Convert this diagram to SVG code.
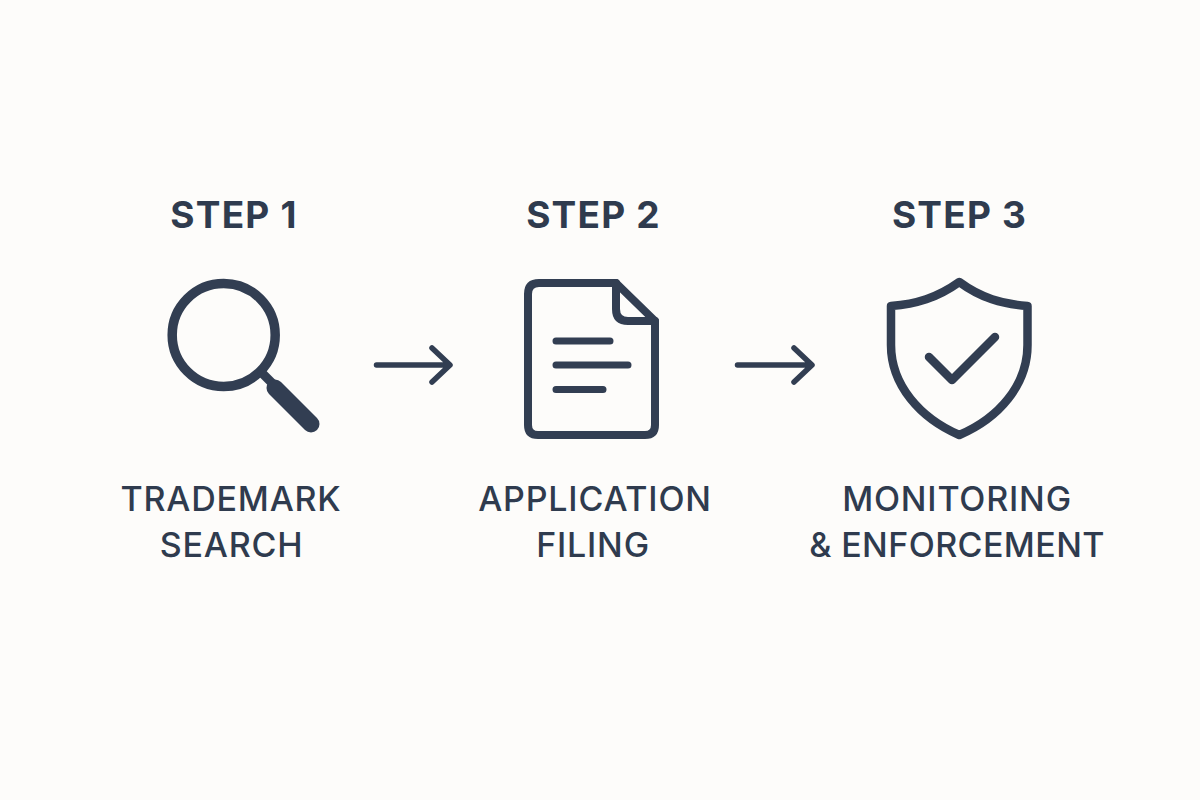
<svg xmlns="http://www.w3.org/2000/svg" width="1200" height="800" viewBox="0 0 1200 800">
<style>
.s{fill:none;stroke:#323e52;stroke-linecap:round;stroke-linejoin:round}
.h{font-family:Inter,"Liberation Sans",sans-serif;font-size:37px;font-weight:700;fill:#2f3b4e;text-anchor:middle;letter-spacing:1.200px}
.l{font-family:Inter,"Liberation Sans",sans-serif;font-size:34px;font-weight:500;fill:#2f3b4e;text-anchor:middle;letter-spacing:.8px}
.t{letter-spacing:.4px}
</style>
<rect width="1200" height="800" fill="#fdfcfa"/>
<g id="connectors">
<path class="s" stroke-width="5.500" d="M376.500 365H449M432 348L450 365L432 382"/>
<path class="s" stroke-width="5.500" d="M737.500 365H810M794 348L812 365L794 382"/>
</g>
<g id="step1">
<text class="h" x="234" y="228">STEP 1</text>
<circle class="s" cx="223.700" cy="335" r="51.500" stroke-width="9.500"/>
<path class="s" stroke-width="9" d="M262 373L274 385"/>
<path class="s" stroke-width="17" d="M275 388L311 424"/>
<text class="l" x="231" y="511">TRADEMARK</text>
<text class="l" x="231.500" y="557">SEARCH</text>
</g>
<g id="step2">
<text class="h" x="593.500" y="228">STEP 2</text>
<path class="s" stroke-width="8" d="M539 283H616L655 321V425Q655 435 645 435H538Q528 435 528 425V294Q528 283 539 283Z"/>
<path class="s" stroke-width="8" d="M616 283V309Q616 321 628 321H655"/>
<path class="s" stroke-width="7" d="M556 341H610M556 365H628M556 389.500H603"/>
<text class="l" x="595" y="511">APPLICATION</text>
<text class="l" x="593" y="557">FILING</text>
</g>
<g id="step3">
<text class="h" x="959.500" y="228">STEP 3</text>
<path class="s" stroke-width="8.500" d="M959.300 282C937 298 916 304 891 306V345C891 385 920 418 959.300 435C999 418 1027.500 385 1027.500 345V306C1002 304 981 298 959.300 282Z"/>
<path class="s" stroke-width="8.500" d="M929 357L952 380L995 337"/>
<text class="l" x="957" y="511">MONITORING</text>
<text class="l t" x="957" y="557">&amp; ENFORCEMENT</text>
</g>
</svg>
